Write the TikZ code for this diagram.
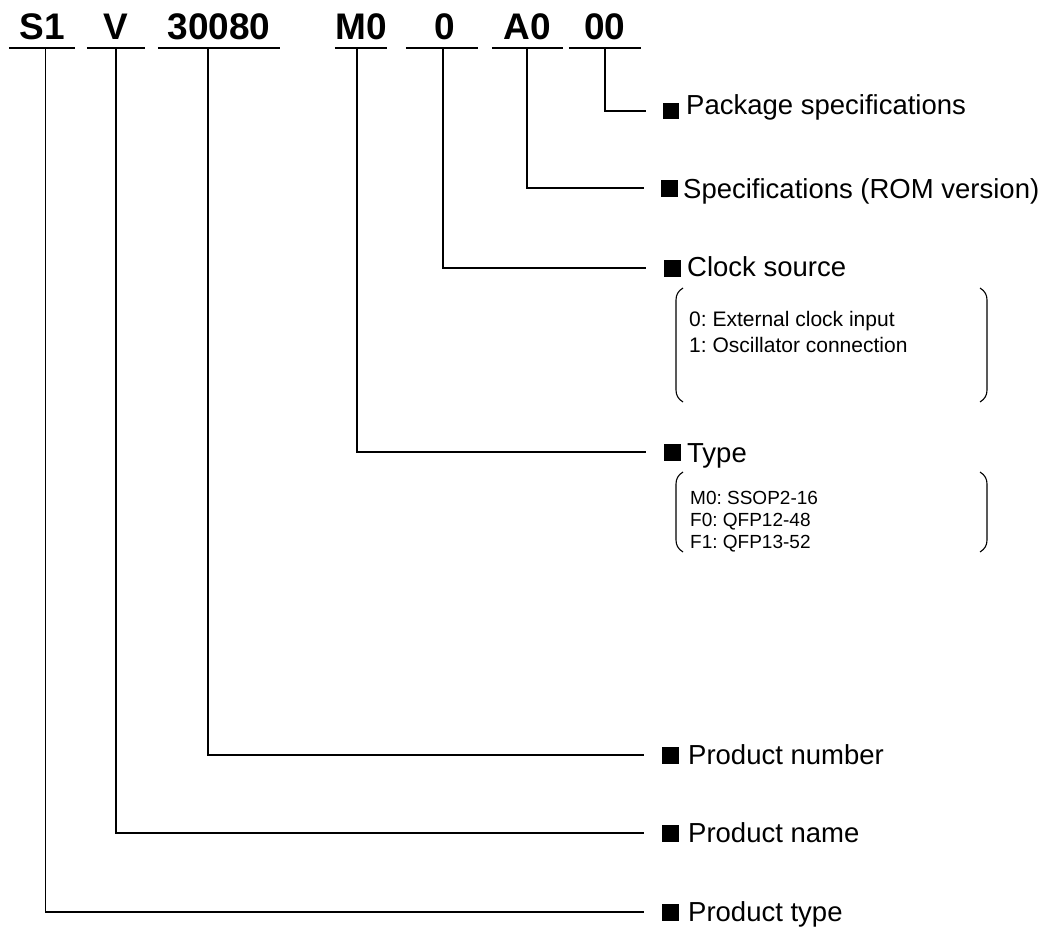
\documentclass[tikz,border=0pt]{standalone}
\usepackage{fontspec}
\setmainfont{Liberation Sans}
\frenchspacing
\begin{document}
\begin{tikzpicture}[x=1pt,y=-1pt,
  code/.style={anchor=south, inner sep=0pt, minimum width=#1, text height=27pt, text depth=8pt, font=\fontsize{37}{40}\selectfont\bfseries},
  uline/.style={line width=1.6pt},
  conn/.style={line width=1.3pt, shorten >=17pt},
  sq/.style={fill=black, inner sep=0pt, minimum size=17pt},
  lbl/.style={anchor=west, inner sep=0pt, text height=20pt, text depth=0pt, font=\fontsize{27.5}{33}\selectfont},
  itema/.style={anchor=base west, inner sep=0pt, font=\fontsize{21}{25}\selectfont},
  itemb/.style={anchor=base west, inner sep=0pt, font=\fontsize{19}{23}\selectfont},
  brk/.style={line width=1.1pt}]
\useasboundingbox (0,0) rectangle (1050,934);

% code parts
\node[code=66pt] (cS1) at (42,48) {S1};
\node[code=58pt] (cV) at (116,48) {V};
\node[code=122pt] (c30080) at (219,48) {30080\hspace{11pt}};
\node[code=52pt] (cM0) at (361,48) {M0};
\node[code=72pt] (c0) at (442,48) {\hspace{6pt}0};
\node[code=71pt] (cA0) at (527.5,48) {A0};
\node[code=72pt] (c00) at (605,48) {00\hspace{6pt}};
\foreach \n in {cS1,cV,c30080,cM0,c0,cA0,c00}
  \draw[uline] (\n.south west) -- (\n.south east);

% labels
\node[sq, minimum size=16pt] (sqpkg) at (671,111) {};
\node[lbl] (lpkg) at (686,104) {Package specifications};
\node[sq] (sqspec) at (669.5,188) {};
\node[lbl] (lspec) at (683,188) {Specifications (ROM version)};
\node[sq] (sqclk) at (672,268) {};
\node[lbl] (lclk) at (687,266) {Clock source};
\node[sq] (sqtype) at (672,452) {};
\node[lbl] (ltype) at (687,452) {Type};
\node[sq] (sqpnum) at (670,755) {};
\node[lbl] (lpnum) at (688,754) {Product number};
\node[sq] (sqpname) at (670,833) {};
\node[lbl] (lpname) at (688,832) {Product name};
\node[sq] (sqptype) at (670,912) {};
\node[lbl] (lptype) at (688,911) {Product type};

% connectors
\draw[conn] ([xshift=0pt]c00.south) |- (sqpkg.west);
\draw[conn] ([xshift=-0.5pt]cA0.south) |- (sqspec.west);
\draw[conn] ([xshift=1pt]c0.south) |- (sqclk.west);
\draw[conn] ([xshift=-4pt]cM0.south) |- (sqtype.west);
\draw[conn] ([xshift=-11pt]c30080.south) |- (sqpnum.west);
\draw[conn] ([xshift=0pt]cV.south) |- (sqpname.west);
\draw[conn] ([xshift=3.7pt]cS1.south) |- (sqptype.west);

% clock source list
\node[itema] (clk0) at (689,326) {0: External clock input};
\node[itema] (clk1) at (689,352) {1: Oscillator connection};
\draw[brk] (683,288) .. controls (678,291) and (676,295) .. (676,300) -- (676,390) .. controls (676,395) and (678,399) .. (683,402);
\draw[brk] (980,288) .. controls (985,291) and (987,295) .. (987,300) -- (987,390) .. controls (987,395) and (985,399) .. (980,402);

% type list
\node[itemb] (tM0) at (690,504) {M0: SSOP2-16};
\node[itemb] (tF0) at (690,526) {F0: QFP12-48};
\node[itemb] (tF1) at (690,548) {F1: QFP13-52};
\draw[brk] (683,472) .. controls (678,475) and (676,479) .. (676,484) -- (676,540) .. controls (676,545) and (678,549) .. (683,552);
\draw[brk] (980,472) .. controls (985,475) and (987,479) .. (987,484) -- (987,540) .. controls (987,545) and (985,549) .. (980,552);
\end{tikzpicture}
\end{document}
